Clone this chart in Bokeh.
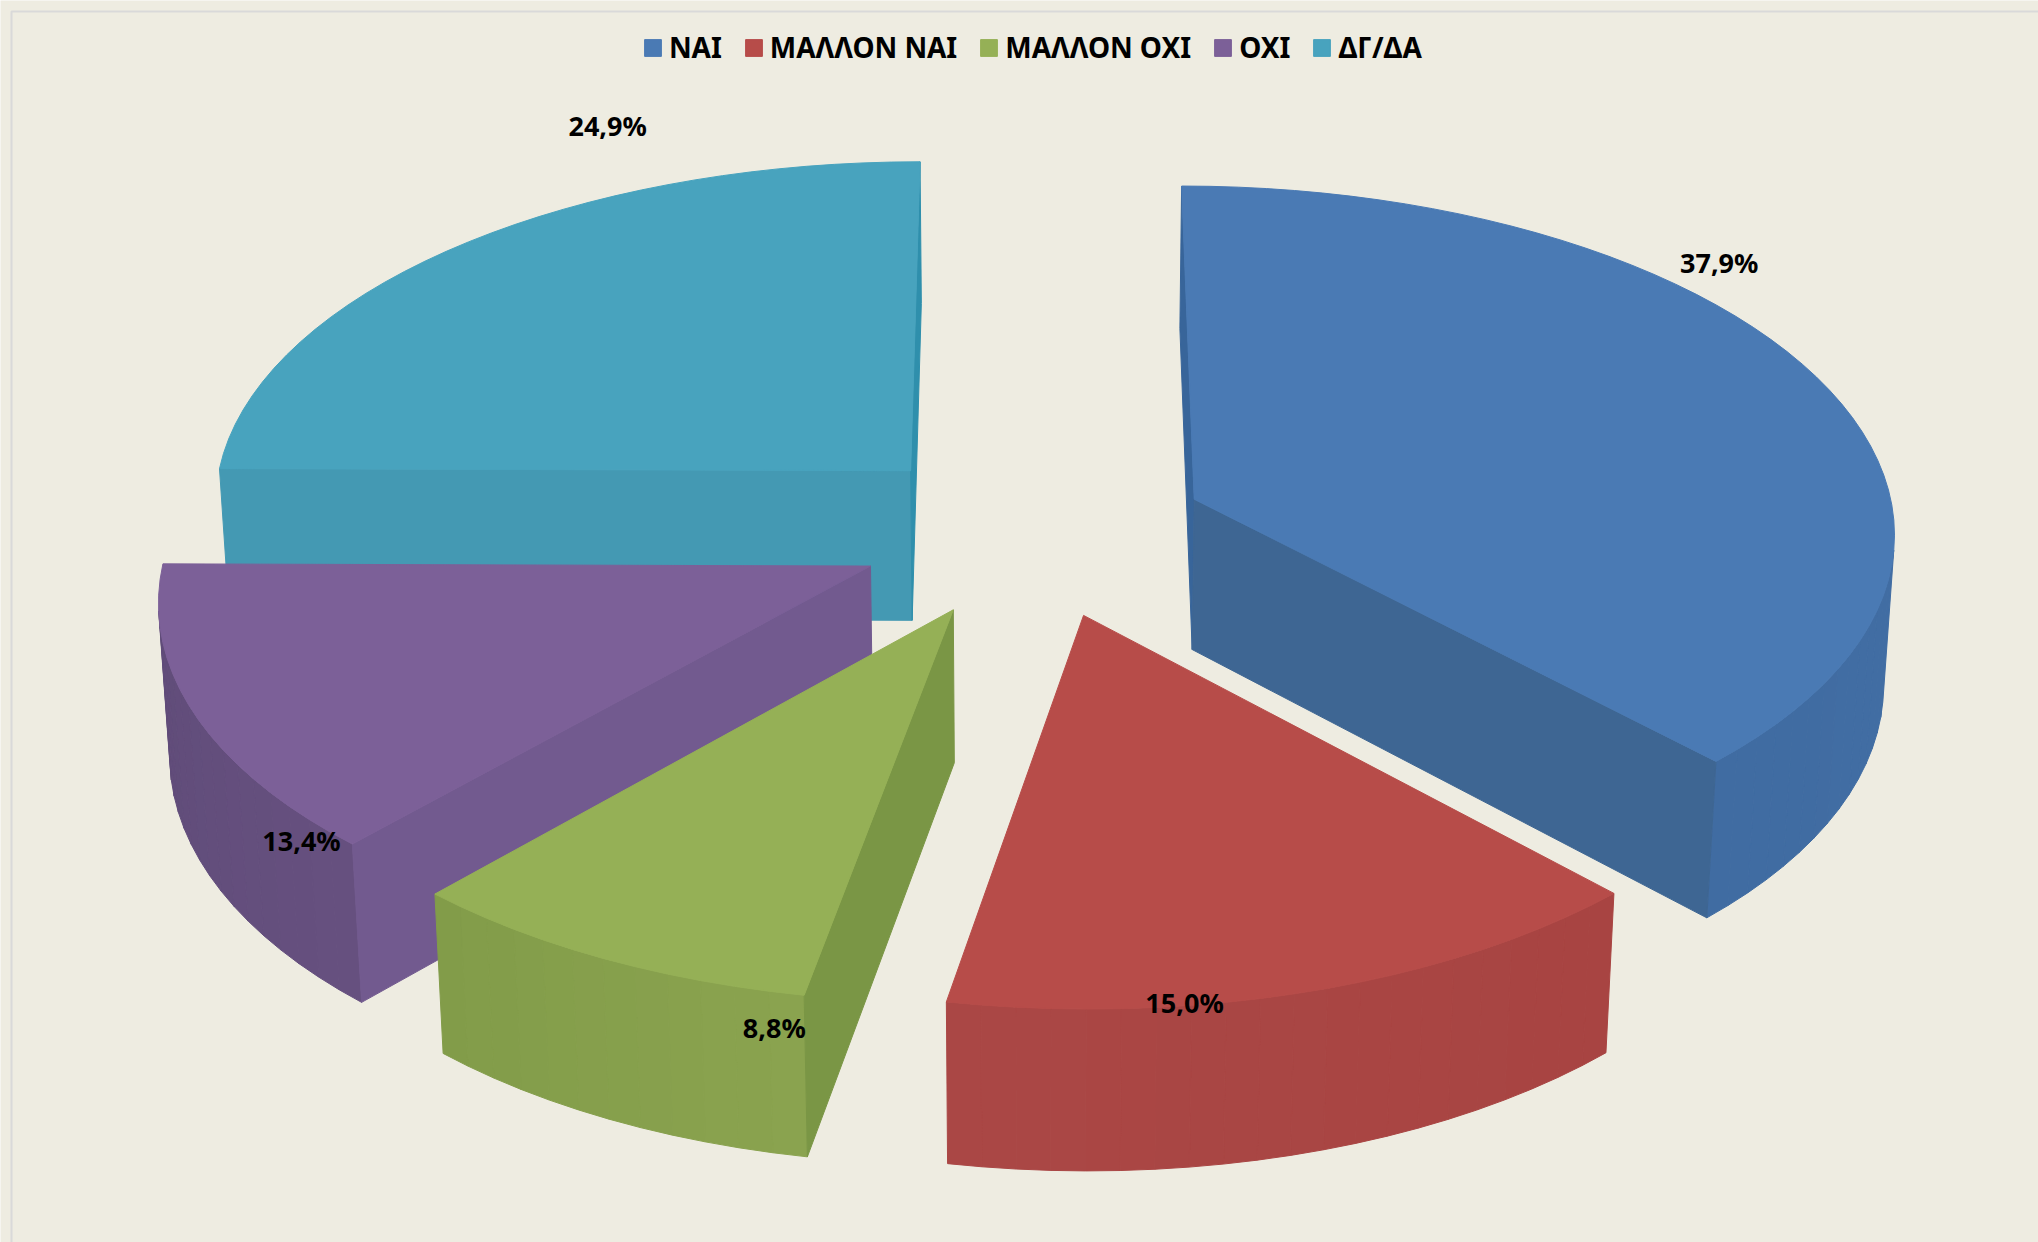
import numpy as np
from bokeh.core.properties import value
from bokeh.embed import file_html
from bokeh.models import Legend, LegendItem, Range1d
from bokeh.plotting import figure
from bokeh.resources import INLINE

# ---- data
categories = ["ΝΑΙ", "ΜΑΛΛΟΝ ΝΑΙ", "ΜΑΛΛΟΝ ΟΧΙ", "ΟΧΙ", "ΔΓ/ΔΑ"]
shares = [37.9, 15.0, 8.8, 13.4, 24.9]
labels = ["37,9%", "15,0%", "8,8%", "13,4%", "24,9%"]

# ---- colours per slice
top_colors = ["#4A7AB4", "#B74C49", "#95B056", "#7C6098", "#48A3BE"]
side_from = ["#4570A6", "#A84442", "#8AA34F", "#66507F", "#3F8FA8"]
side_to = ["#406CA2", "#AA4745", "#829C49", "#5F4B78", "#3F8FA8"]
radial_start = ["#38659A", "#A84442", "#7A9645", "#725A8F", "#4499B3"]
radial_end = ["#3E6693", "#A84442", "#7A9645", "#725A8F", "#2F8FAC"]

# ---- 3D camera and layout
BG = "#EEECE1"
CX, CY = 1032, 530.5    # pie centre on the page
RX, RY = 702, 345       # radii of the top face
DEPTH = 153             # thickness of the pie
EXPLODE = 0.25          # share of the radius each slice is pulled out
K_NEAR, K_DOWN = 0.085, 0.0128  # perspective strength
FACET_DEG = 2.5
# label offset from the slice's inner corner
label_offsets = [(525, -237), (101, 387), (-179, 418), (-569, 274), (-303, -345)]


def project(X, Y, down):
    s = 1.0 / (1.0 - K_NEAR * Y + K_DOWN * down)
    return CX + RX * X * s, CY + (RY * Y + DEPTH * down) * s


def shoelace(xs, ys):
    xs, ys = np.asarray(xs), np.asarray(ys)
    return 0.5 * np.sum(xs * np.roll(ys, -1) - np.roll(xs, -1) * ys)


def mix(a, b, t):
    ca = [int(a[i:i + 2], 16) for i in (1, 3, 5)]
    cb = [int(b[i:i + 2], 16) for i in (1, 3, 5)]
    return "#%02X%02X%02X" % tuple(round(u + (v - u) * t) for u, v in zip(ca, cb))


p = figure(width=2038, height=1242, output_backend="svg", toolbar_location=None,
           x_range=Range1d(0, 2038), y_range=Range1d(1242, 0),
           x_axis_type=None, y_axis_type=None, min_border=0,
           background_fill_color=BG, border_fill_color=BG, outline_line_color=None)
p.grid.visible = False

# chart frame
p.line([11, 11, 2038], [1242, 11, 11], line_color="#D9D9D9", line_width=2)

edges = np.cumsum([0.0] + shares) / sum(shares) * 2 * np.pi
slices = []
for i in range(len(shares)):
    a0, a1 = edges[i], edges[i + 1]
    mid = (a0 + a1) / 2
    ox, oy = EXPLODE * np.sin(mid), -EXPLODE * np.cos(mid)
    slices.append((oy, i, a0, a1, ox))

top_renderers = {}
label_x, label_y = [None] * len(shares), [None] * len(shares)
for oy, i, a0, a1, ox in sorted(slices):
    n = max(2, int(np.degrees(a1 - a0) / FACET_DEG))
    ang = np.linspace(a0, a1, n + 1)
    wx = ox + np.sin(ang)
    wy = oy - np.cos(ang)
    tx, ty = project(wx, wy, 0)
    bx, by = project(wx, wy, 1)
    ax, ay = project(ox, oy, 0)
    cx, cy = project(ox, oy, 1)

    fx, fy, fc = [], [], []
    # curved outer wall, facet by facet
    for j in range(n):
        qx = [tx[j], tx[j + 1], bx[j + 1], bx[j]]
        qy = [ty[j], ty[j + 1], by[j + 1], by[j]]
        if shoelace(qx, qy) < 0:
            fx.append(qx)
            fy.append(qy)
            fc.append(mix(side_from[i], side_to[i], j / max(1, n - 1)))
    # flat inner walls
    qx = [ax, tx[0], bx[0], cx]
    qy = [ay, ty[0], by[0], cy]
    if shoelace(qx, qy) < 0:
        fx.append(qx)
        fy.append(qy)
        fc.append(radial_start[i])
    qx = [tx[-1], ax, cx, bx[-1]]
    qy = [ty[-1], ay, cy, by[-1]]
    if shoelace(qx, qy) < 0:
        fx.append(qx)
        fy.append(qy)
        fc.append(radial_end[i])
    if fx:
        p.patches(fx, fy, fill_color=fc, line_color=fc, line_width=1)

    top_renderers[i] = p.patch(np.r_[ax, tx], np.r_[ay, ty], fill_color=top_colors[i],
                               line_color=top_colors[i], line_width=1)
    label_x[i] = ax + label_offsets[i][0]
    label_y[i] = ay + label_offsets[i][1]

p.text(label_x, label_y, text=labels, text_font=value("Noto Sans"), text_font_style="bold",
       text_font_size="27px", text_color="#000000", text_align="center", text_baseline="middle")

legend = Legend(items=[LegendItem(label=c, renderers=[top_renderers[i]]) for i, c in enumerate(categories)],
                orientation="horizontal", location=(642, 1242 - 66),
                glyph_width=21, glyph_height=21, label_standoff=6, spacing=21, padding=0, margin=0,
                background_fill_alpha=0, border_line_color=None,
                label_text_font="Noto Sans", label_text_font_style="bold",
                label_text_font_size="28px", label_text_color="#000000")
p.add_layout(legend, "center")

open("out.html", "w").write(file_html(p, INLINE))
